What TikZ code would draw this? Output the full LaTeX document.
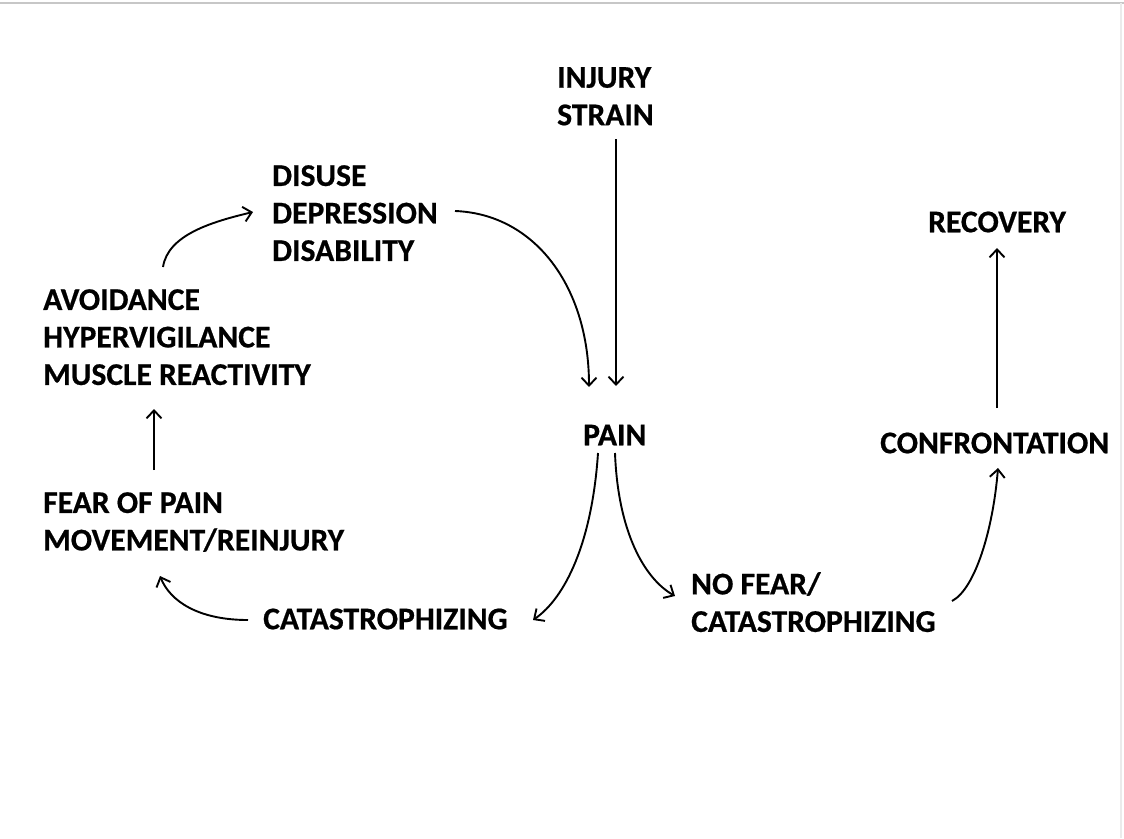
\documentclass[tikz,border=0pt]{standalone}
\usepackage{fontspec}
\setmainfont{Carlito}[BoldFeatures={FakeBold=0.6}]
\usetikzlibrary{arrows.meta}
\begin{document}
\begin{tikzpicture}[x=1pt,y=1pt,
  lbl/.style={inner sep=0pt, align=left, font=\fontsize{31.6}{37.5}\selectfont\bfseries},
  arr/.style={line width=1.9pt, -{Straight Barb[length=8pt,width=15pt,line width=1.9pt]}}]
\useasboundingbox (0,0) rectangle (1124,-838);
\fill[white] (0,0) rectangle (1124,-838);
\draw[black!22, line width=1.5pt] (0,-3) -- (1124,-3);
\draw[black!8, line width=1.5pt] (1121,-3) -- (1121,-838);
% nodes
\node[lbl, anchor=north west] (injury) at (557,-67) {INJURY\\STRAIN};
\node[lbl, anchor=north west] (disuse) at (272,-165) {DISUSE\\DEPRESSION\\DISABILITY};
\node[lbl, anchor=west] (recovery) at (928,-222) {RECOVERY};
\node[lbl, anchor=north west] (avoid) at (43,-289) {AVOIDANCE\\HYPERVIGILANCE\\MUSCLE REACTIVITY};
\node[lbl, anchor=west] (pain) at (583,-435) {PAIN};
\node[lbl, anchor=west] (conf) at (880,-443) {CONFRONTATION};
\node[lbl, anchor=north west] (fear) at (43,-492) {FEAR OF PAIN\\MOVEMENT/REINJURY};
\node[lbl, anchor=west] (cat) at (263,-619) {CATASTROPHIZING};
\node[lbl, anchor=north west] (nofear) at (691,-572) {NO FEAR/\\CATASTROPHIZING};
% connectors
\draw[arr] ([shift={(59,-72)}]injury.north west) -- ([shift={(33,49)}]pain.west);
\draw[arr] ([shift={(183,-46)}]disuse.north west) .. controls +(80,-3) and +(0,100) .. ([shift={(6,48)}]pain.west);
\draw[arr] ([shift={(120,22)}]avoid.north west) .. controls +(5,32) and +(-42,-10) .. ([shift={(-19,-47)}]disuse.north west);
\draw[arr] ([shift={(111,22)}]fear.north west) -- ([shift={(111,-120)}]avoid.north west);
\draw[arr] ([shift={(-15,-1)}]cat.west) .. controls +(-50,0) and +(10,-25) .. ([shift={(117,-84)}]fear.north west);
\draw[arr] ([shift={(15,-18)}]pain.west) .. controls +(-6,-90) and +(32,22) .. ([shift={(270,-1)}]cat.west);
\draw[arr] ([shift={(32,-18)}]pain.west) .. controls +(3,-80) and +(-30,17) .. ([shift={(-16,-24)}]nofear.north west);
\draw[arr] ([shift={(261,-29)}]nofear.north west) .. controls +(23,12) and +(-5,-62) .. ([shift={(118,-25)}]conf.west);
\draw[arr] ([shift={(117,35)}]conf.west) -- ([shift={(69,-26)}]recovery.west);
\end{tikzpicture}
\end{document}
